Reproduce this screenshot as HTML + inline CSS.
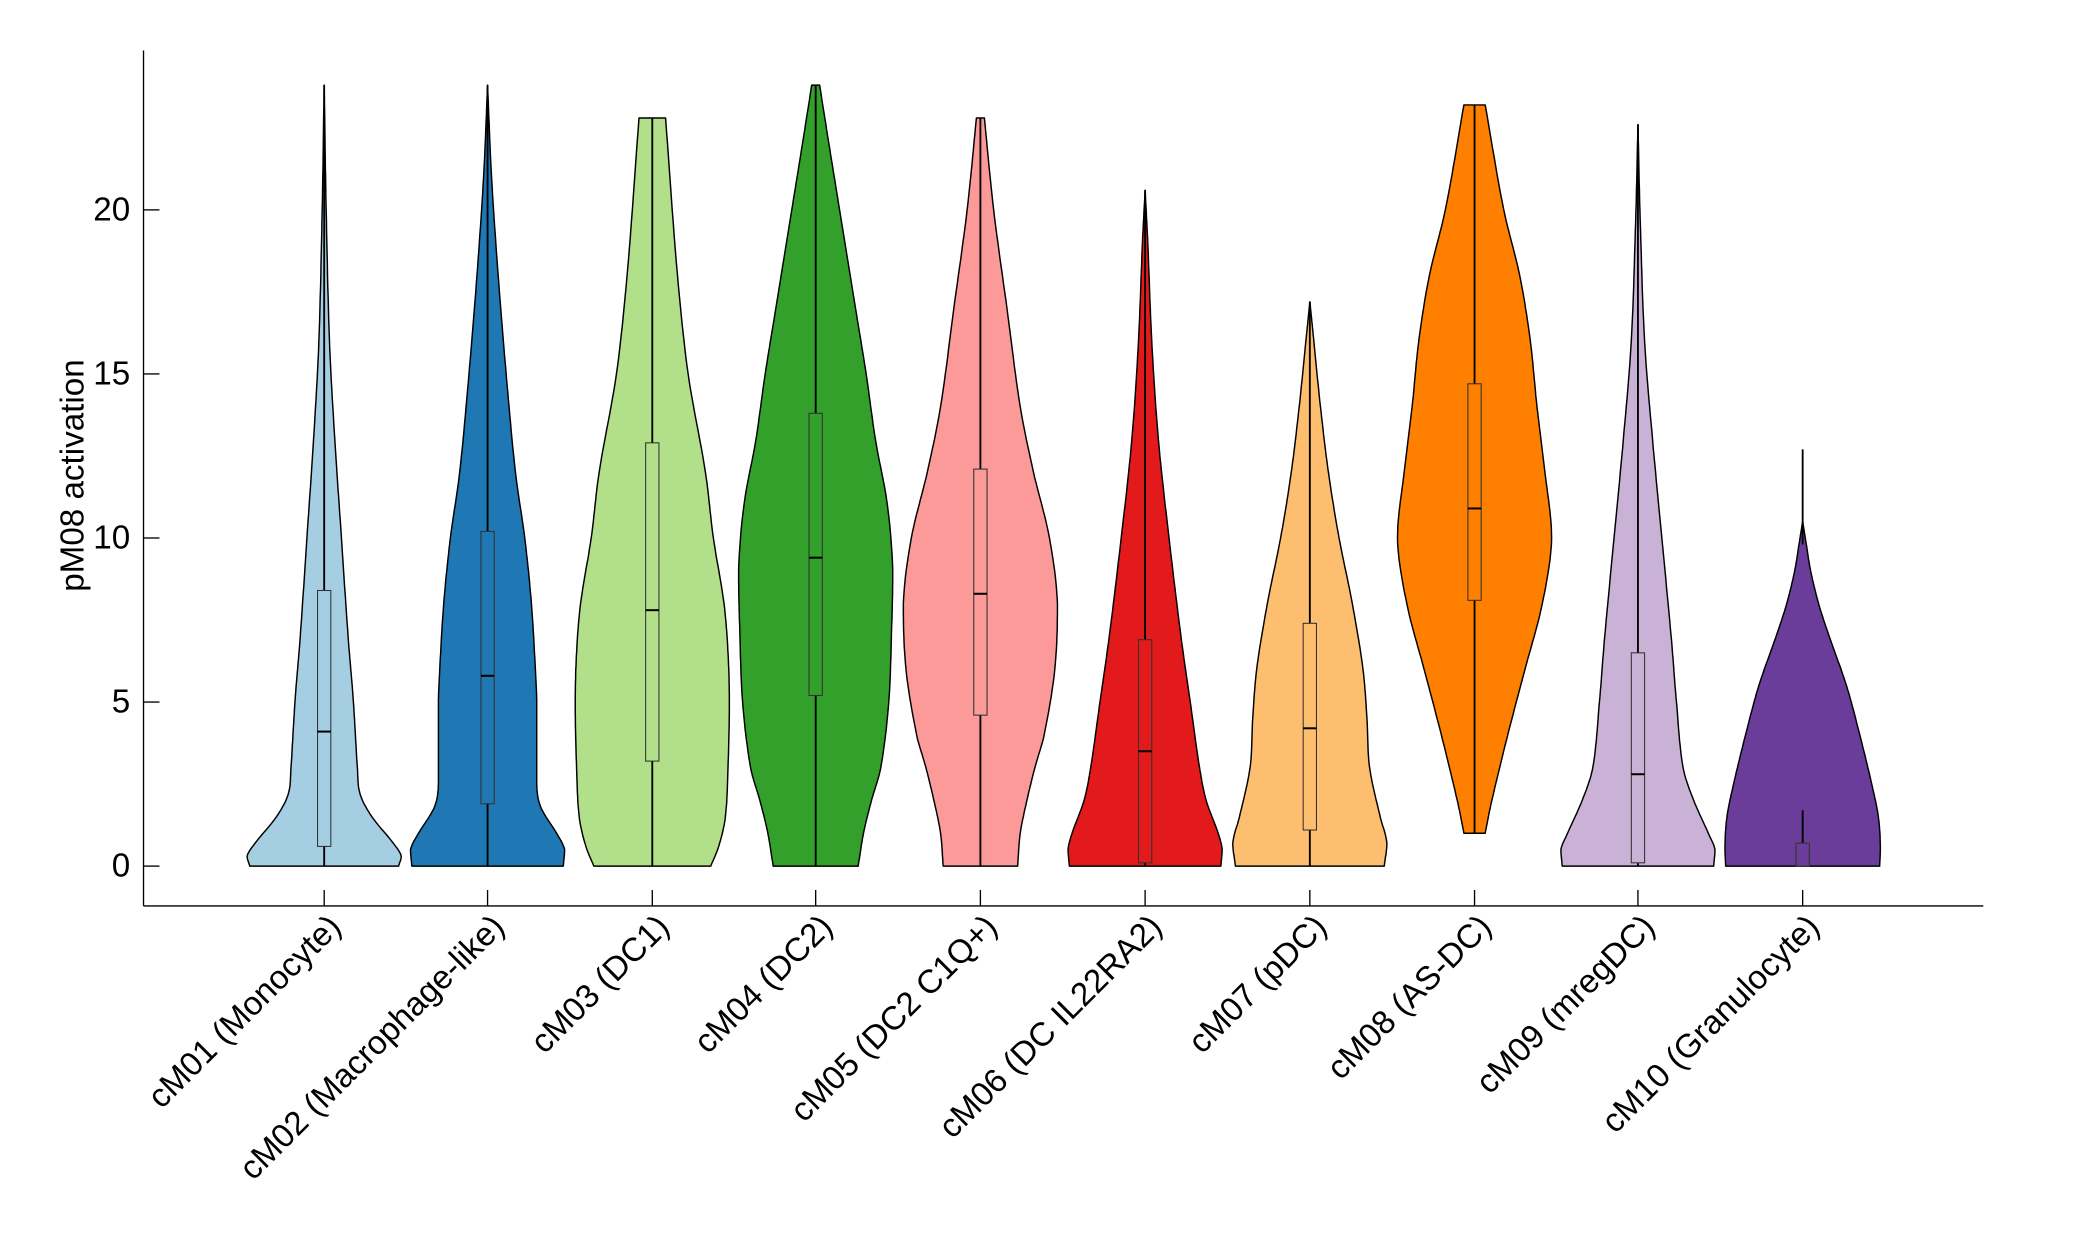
<!DOCTYPE html>
<html><head><meta charset="utf-8"><style>
html,body{margin:0;padding:0;background:#fff;}
svg{display:block;}
text{font-family:"Liberation Sans",Arial,sans-serif;fill:#000;}
</style></head><body>
<svg id="s" width="2083" height="1250" viewBox="0 0 1568 941" xmlns="http://www.w3.org/2000/svg">
<rect width="1568" height="941" fill="#fff"/>
<g id="v"></g>
<line x1="108" y1="38" x2="108" y2="682" stroke="#000" stroke-width="1"/>
<line x1="108" y1="682" x2="1493" y2="682" stroke="#000" stroke-width="1"/>
<g id="ax"></g>
<text transform="translate(63,358) rotate(-90)" text-anchor="middle" font-size="25">pM08 activation</text>
</svg>
<script>
var Y=function(v){return 652-24.7*v;};
var D=[
["cM01 (Monocyte)",244,"#a6cee3",[[0,56],[0.3,58],[0.7,52],[1.5,36],[2.2,27],[3,25],[5,22],[7,18],[10,13],[13,8],[16,4],[20,1.5],[23.8,0]],[0.6,4.1,8.4],[[0,23.8]]],
["cM02 (Macrophage-like)",367,"#1f78b4",[[0,57],[0.5,58],[1,52],[1.8,40],[2.5,37],[5,37],[6,36],[8,33],[10,28],[12,21],[15,14],[18,8],[21,3],[23.8,0]],[1.9,5.8,10.2],[[0,23.8]]],
["cM03 (DC1)",491,"#b2df8a",[[0,44],[0.6,50],[1.5,55],[3,57],[5,58],[6.5,57],[8,54],[10,46],[12,40],[15,27],[18,19],[22.8,10]],[3.2,7.8,12.9],[[0,22.8]]],
["cM04 (DC2)",614,"#33a02c",[[0,32],[1,36],[2,42],[3,49],[5,55],[7,57],[9,58],[11,54],[13,45],[15,38],[17,30],[20,18],[22,10],[23.8,3]],[5.2,9.4,13.8],[[0,23.8]]],
["cM05 (DC2 C1Q+)",738,"#fb9a99",[[0,28],[1,30],[2,35],[3,41],[4,48],[6,56],[8,58],[10,52],[12,40],[14,30],[17,20],[20,10],[22.8,3]],[4.6,8.3,12.1],[[0,22.8]]],
["cM06 (DC IL22RA2)",862,"#e31a1c",[[0,57],[0.5,58],[1,55],[2,46],[3,41],[5,34],[7,27],[10,18],[13,10],[16,5],[19,2],[20.6,0]],[0.1,3.5,6.9],[[0,20.6]]],
["cM07 (pDC)",986,"#fdbf6f",[[0,56],[0.7,58],[1.5,53],[3,45],[4.5,43],[6,40],[8,32],[10,22],[12,14],[14,8],[16,3],[17.2,0]],[1.1,4.2,7.4],[[0,17.2]]],
["cM08 (AS-DC)",1110,"#ff7f00",[[1,8],[2,13],[4,25],[6,38],[8,51],[10,58],[12,53],[14,47],[16,42],[18,34],[20,22],[23.2,8]],[8.1,10.9,14.7],[[1,23.2]]],
["cM09 (mregDC)",1233,"#cab2d6",[[0,57],[0.5,58],[1,53],[2,42],[3,34],[5,29],[7,25],[10,18],[13,11],[16,5],[20,1.5],[22.6,0]],[0.1,2.8,6.5],[[0,22.6]]],
["cM10 (Granulocyte)",1357,"#6a3d9a",[[0,58],[0.6,58.5],[1.5,57],[2.5,52],[4,43],[5.5,33],[7,20],[8,12],[9,6],[10,2],[10.5,0]],[0,null,0.7],[[0.7,1.7],[9.8,12.7]]]
];
var NS="http://www.w3.org/2000/svg";
function el(t,a,p){var e=document.createElementNS(NS,t);for(var k in a)e.setAttribute(k,a[k]);p.appendChild(e);return e;}
var g=document.getElementById("v"),ax=document.getElementById("ax");
function interp(p){
 var out=[],n=p.length,m=[];
 for(var i=0;i<n;i++){
  var a=p[Math.max(0,i-1)],b=p[Math.min(n-1,i+1)];
  m.push((b[1]-a[1])/(b[0]-a[0]));
 }
 for(var i=0;i<n-1;i++){
  var x0=p[i][0],x1=p[i+1][0],y0=p[i][1],y1=p[i+1][1],h=x1-x0;
  var m0=m[i],m1=m[i+1];
  var sec=(y1-y0)/h;
  if(sec===0){m0=0;m1=0;}else{ if(m0/sec>3)m0=3*sec; if(m1/sec>3)m1=3*sec; if(m0*sec<0)m0=0; if(m1*sec<0)m1=0;}
  for(var s=(i==0?0:1);s<=12;s++){
   var t=s/12,t2=t*t,t3=t2*t;
   var y=(2*t3-3*t2+1)*y0+(t3-2*t2+t)*h*m0+(-2*t3+3*t2)*y1+(t3-t2)*h*m1;
   out.push([x0+h*t,Math.max(0,y)]);
  }
 }
 return out;
}
D.forEach(function(d){
 var x=d[1],q=interp(d[3]),R=[],L=[];
 q.forEach(function(r){R.push([x+r[1],Y(r[0])]);L.push([x-r[1],Y(r[0])]);});
 var pts=R.concat(L.reverse());
 el("path",{d:"M"+pts.map(function(q){return q[0].toFixed(1)+","+q[1].toFixed(1);}).join("L")+"Z",fill:d[2],stroke:"#000","stroke-width":1.1,"stroke-linejoin":"round"},g);
 d[5].forEach(function(w){el("line",{x1:x,y1:Y(w[0]),x2:x,y2:Y(w[1]),stroke:"#000","stroke-width":1.4},g);});
 var b=d[4];
 el("rect",{x:x-5,y:Y(b[2]),width:10,height:Y(b[0])-Y(b[2]),fill:d[2],stroke:"#333","stroke-width":0.8},g);
 if(b[1]!==null)el("line",{x1:x-5,y1:Y(b[1]),x2:x+5,y2:Y(b[1]),stroke:"#000","stroke-width":1.5},g);
 el("line",{x1:x,y1:682,x2:x,y2:670,stroke:"#000","stroke-width":1},ax);
 var t=el("text",{"font-size":"25","text-anchor":"end",transform:"translate("+(x+14)+",699) rotate(-45)"},ax);t.textContent=d[0];
});
[0,5,10,15,20].forEach(function(v){
 el("line",{x1:108,y1:Y(v),x2:120,y2:Y(v),stroke:"#000","stroke-width":1},ax);
 var t=el("text",{x:98,y:Y(v)+8,"font-size":"25","text-anchor":"end"},ax);t.textContent=v;
});
</script>
</body></html>
